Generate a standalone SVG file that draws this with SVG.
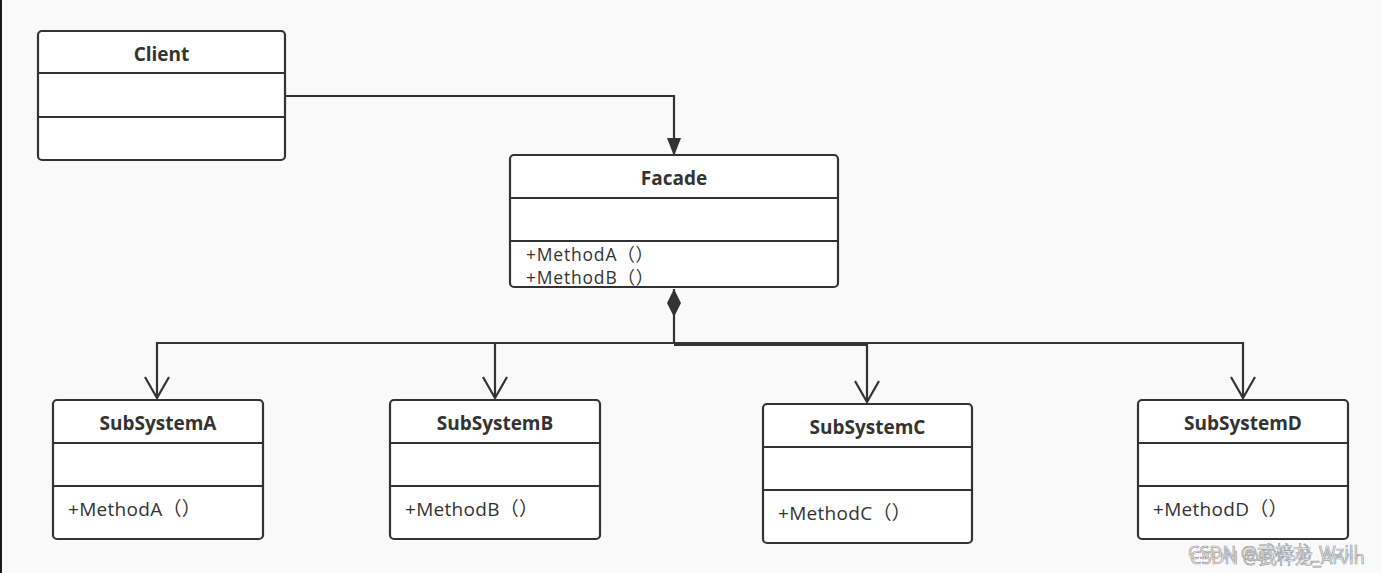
<svg xmlns="http://www.w3.org/2000/svg" width="1382" height="573" viewBox="0 0 1382 573">
<defs>
<style>
.box{fill:#ffffff;stroke:#333333;stroke-width:2.2}
.div{stroke:#333333;stroke-width:2.2;fill:none}
.title{font-family:"Open Sans","Noto Sans","Noto Sans CJK SC",sans-serif;font-weight:bold;font-size:19px;fill:#333333;text-anchor:middle}
.meth{font-family:"Open Sans","Noto Sans","Noto Sans CJK SC",sans-serif;font-size:19px;fill:#333333;letter-spacing:0.3px}
.fmeth{font-family:"Open Sans","Noto Sans","Noto Sans CJK SC",sans-serif;font-size:17.5px;fill:#333333;letter-spacing:0.8px}
.conn{stroke:#333333;stroke-width:2.2;fill:none}
.wm{font-family:"Noto Sans","Noto Sans CJK SC",sans-serif;font-size:18px;fill:#f0f0f0;stroke:#a0a0a0;stroke-width:0.7}
</style>
<marker id="filled" viewBox="0 0 18 14" refX="17" refY="7" markerWidth="18" markerHeight="14" markerUnits="userSpaceOnUse" orient="auto">
<path d="M0,0 L18,7 L0,14 Z" fill="#333333"/>
</marker>
<marker id="open" viewBox="0 0 24 28" refX="22" refY="13" markerWidth="24" markerHeight="28" markerUnits="userSpaceOnUse" orient="auto">
<path d="M1,1 L22,13 L1,25" fill="none" stroke="#333333" stroke-width="2.2"/>
</marker>
<marker id="diamond" viewBox="0 0 28 16" refX="0" refY="8" markerWidth="28" markerHeight="16" markerUnits="userSpaceOnUse" orient="auto">
<path d="M0,8 L14,1 L28,8 L14,15 Z" fill="#333333"/>
</marker>
</defs>
<rect x="0" y="0" width="1382" height="573" fill="#f9f9f9"/>
<rect x="0" y="0" width="2" height="573" fill="#1a1a1a"/>

<g id="connectors">
<path class="conn" d="M285,96 L674,96 L674,155" marker-end="url(#filled)"/>
<path class="conn" d="M674,289 L674,343 L157,343 L157,398" marker-start="url(#diamond)" marker-end="url(#open)"/>
<path class="conn" d="M674,343 L495,343 L495,398" marker-end="url(#open)"/>
<path class="conn" d="M674,345 L867,345 L867,402" marker-end="url(#open)"/>
<path class="conn" d="M674,343 L1243,343 L1243,398" marker-end="url(#open)"/>
</g>

<g id="client">
<rect class="box" x="38" y="31" width="247" height="129" rx="4"/>
<line class="div" x1="38" y1="73" x2="285" y2="73"/>
<line class="div" x1="38" y1="117" x2="285" y2="117"/>
<text class="title" x="161.5" y="61">Client</text>
</g>

<g id="facade">
<rect class="box" x="510" y="155" width="328" height="132" rx="4"/>
<line class="div" x1="510" y1="198" x2="838" y2="198"/>
<line class="div" x1="510" y1="241" x2="838" y2="241"/>
<text class="title" x="674" y="185">Facade</text>
<text class="fmeth" x="526" y="261">+MethodA（）</text>
<text class="fmeth" x="526" y="284">+MethodB（）</text>
</g>

<g id="subsystemA">
<rect class="box" x="53" y="400" width="210" height="139" rx="4"/>
<line class="div" x1="53" y1="443" x2="263" y2="443"/>
<line class="div" x1="53" y1="486" x2="263" y2="486"/>
<text class="title" x="158" y="430">SubSystemA</text>
<text class="meth" x="68" y="516">+MethodA（）</text>
</g>

<g id="subsystemB">
<rect class="box" x="390" y="400" width="210" height="139" rx="4"/>
<line class="div" x1="390" y1="443" x2="600" y2="443"/>
<line class="div" x1="390" y1="486" x2="600" y2="486"/>
<text class="title" x="495" y="430">SubSystemB</text>
<text class="meth" x="405" y="516">+MethodB（）</text>
</g>

<g id="subsystemC">
<rect class="box" x="763" y="404" width="209" height="139" rx="4"/>
<line class="div" x1="763" y1="447" x2="972" y2="447"/>
<line class="div" x1="763" y1="490" x2="972" y2="490"/>
<text class="title" x="867.5" y="434">SubSystemC</text>
<text class="meth" x="778" y="520">+MethodC（）</text>
</g>

<g id="subsystemD">
<rect class="box" x="1138" y="400" width="210" height="139" rx="4"/>
<line class="div" x1="1138" y1="443" x2="1348" y2="443"/>
<line class="div" x1="1138" y1="486" x2="1348" y2="486"/>
<text class="title" x="1243" y="430">SubSystemD</text>
<text class="meth" x="1153" y="516">+MethodD（）</text>
</g>

<g id="watermark">
<text class="wm" x="1190" y="564">CSDN @武梓龙_Arvin</text>
<text class="wm" x="1188" y="559">CSDN @武梓龙_Wzill</text>
</g>
</svg>
